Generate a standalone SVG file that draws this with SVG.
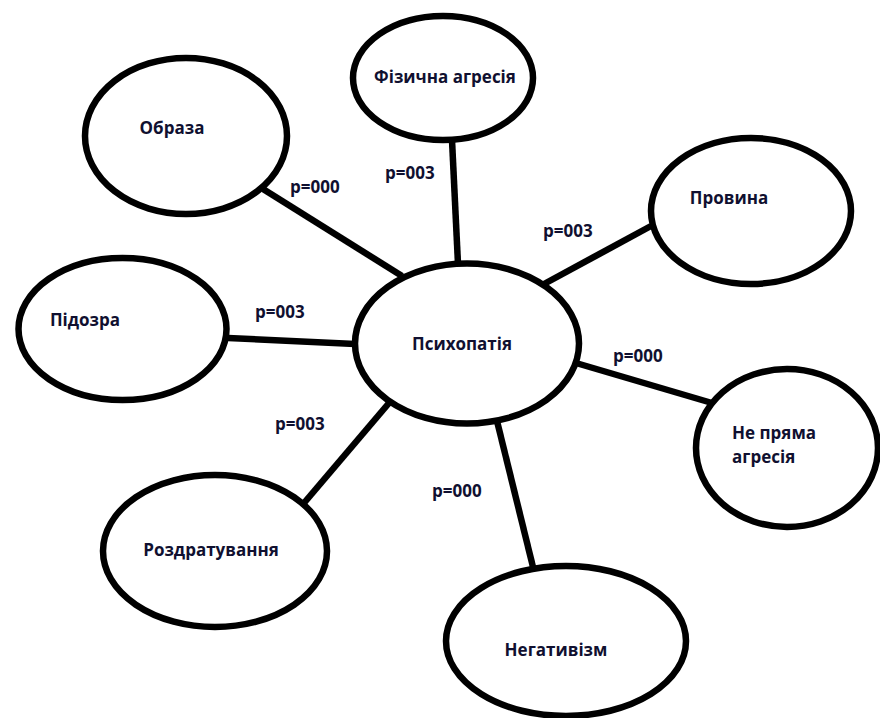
<svg xmlns="http://www.w3.org/2000/svg" width="880" height="718" viewBox="0 0 880 718">
<style>
.n{fill:#fff;stroke:#000;stroke-width:6.5}
.c line{stroke:#000;stroke-width:6.5;stroke-linecap:butt}
text{font-family:"Open Sans","Noto Sans",sans-serif;font-weight:700;font-size:17px;fill:#101030}
.m{text-anchor:middle}
</style>
<rect width="880" height="718" fill="#fff"/>
<g class="c" id="connectors">
<line x1="452" y1="140" x2="458" y2="264"/>
<line x1="263" y1="189" x2="402" y2="276"/>
<line x1="651" y1="226" x2="544" y2="284"/>
<line x1="228" y1="338" x2="355" y2="344"/>
<line x1="576" y1="363" x2="712" y2="403"/>
<line x1="389" y1="403" x2="304" y2="503"/>
<line x1="497" y1="421" x2="533" y2="567"/>
<text x="385" y="179">p=003</text>
<text x="290" y="193">p=000</text>
<text x="543" y="237">p=003</text>
<text x="255" y="318">p=003</text>
<text x="613" y="362">p=000</text>
<text x="275" y="430">p=003</text>
<text x="432" y="497">p=000</text>
</g>
<g id="n-fizychna"><ellipse class="n" cx="443" cy="78" rx="90" ry="62"/><text class="m" x="445" y="83">Фізична агресія</text></g>
<g id="n-obraza"><ellipse class="n" cx="186" cy="136" rx="101" ry="78"/><text class="m" x="172" y="134">Образа</text></g>
<g id="n-provyna"><ellipse class="n" cx="751" cy="211" rx="100" ry="73"/><text class="m" x="729" y="204">Провина</text></g>
<g id="n-pidozra"><ellipse class="n" cx="122.5" cy="329" rx="104" ry="71"/><text class="m" x="85" y="326">Підозра</text></g>
<g id="n-psykhopatiia"><ellipse class="n" cx="467" cy="343.5" rx="112" ry="80"/><text class="m" x="462" y="350">Психопатія</text></g>
<g id="n-ne-priama"><ellipse class="n" cx="787" cy="448" rx="91" ry="79"/><text x="732" y="439">Не пряма</text><text x="732" y="463">агресія</text></g>
<g id="n-rozdratuvannia"><ellipse class="n" cx="215" cy="551" rx="112" ry="76"/><text class="m" x="211" y="556">Роздратування</text></g>
<g id="n-negatyvizm"><ellipse class="n" cx="566" cy="641" rx="120" ry="75"/><text class="m" x="556" y="656">Негативізм</text></g>
</svg>
